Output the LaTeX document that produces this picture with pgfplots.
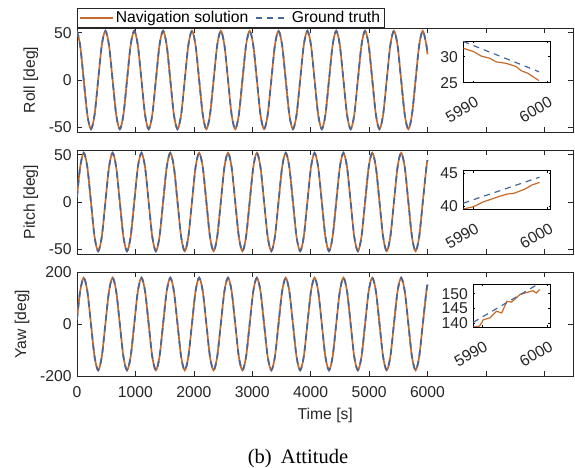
\documentclass[border=0pt]{standalone}
\usepackage{fontspec}
\setmainfont{Liberation Sans}
\newfontfamily\capfont{Liberation Serif}
\usepackage{pgfplots}
\usepackage{pgfplotstable}
\pgfplotsset{compat=1.18}
\definecolor{navc}{RGB}{198,106,44}
\definecolor{truc}{RGB}{68,102,156}
\definecolor{axg}{RGB}{38,38,38}

\pgfplotstableread{
t roll pitch yaw
0 51.73 5.28 18.1
53.75 36.77 36.77 125.87
115.5 0 52 178
177.25 -36.77 36.77 125.87
239 -52 0 0
300.75 -36.77 -36.77 -125.87
362.5 0 -52 -178
424.25 36.77 -36.77 -125.87
486 52 0 0
547.75 36.77 36.77 125.87
609.5 0 52 178
671.25 -36.77 36.77 125.87
733 -52 0 0
794.75 -36.77 -36.77 -125.87
856.5 0 -52 -178
918.25 36.77 -36.77 -125.87
980 52 0 0
1041.75 36.77 36.77 125.87
1103.5 0 52 178
1165.25 -36.77 36.77 125.87
1227 -52 0 0
1288.75 -36.77 -36.77 -125.87
1350.5 0 -52 -178
1412.25 36.77 -36.77 -125.87
1474 52 0 0
1535.75 36.77 36.77 125.87
1597.5 0 52 178
1659.25 -36.77 36.77 125.87
1721 -52 0 0
1782.75 -36.77 -36.77 -125.87
1844.5 0 -52 -178
1906.25 36.77 -36.77 -125.87
1968 52 0 0
2029.75 36.77 36.77 125.87
2091.5 0 52 178
2153.25 -36.77 36.77 125.87
2215 -52 0 0
2276.75 -36.77 -36.77 -125.87
2338.5 0 -52 -178
2400.25 36.77 -36.77 -125.87
2462 52 0 0
2523.75 36.77 36.77 125.87
2585.5 0 52 178
2647.25 -36.77 36.77 125.87
2709 -52 0 0
2770.75 -36.77 -36.77 -125.87
2832.5 0 -52 -178
2894.25 36.77 -36.77 -125.87
2956 52 0 0
3017.75 36.77 36.77 125.87
3079.5 0 52 178
3141.25 -36.77 36.77 125.87
3203 -52 0 0
3264.75 -36.77 -36.77 -125.87
3326.5 0 -52 -178
3388.25 36.77 -36.77 -125.87
3450 52 0 0
3511.75 36.77 36.77 125.87
3573.5 0 52 178
3635.25 -36.77 36.77 125.87
3697 -52 0 0
3758.75 -36.77 -36.77 -125.87
3820.5 0 -52 -178
3882.25 36.77 -36.77 -125.87
3944 52 0 0
4005.75 36.77 36.77 125.87
4067.5 0 52 178
4129.25 -36.77 36.77 125.87
4191 -52 0 0
4252.75 -36.77 -36.77 -125.87
4314.5 0 -52 -178
4376.25 36.77 -36.77 -125.87
4438 52 0 0
4499.75 36.77 36.77 125.87
4561.5 0 52 178
4623.25 -36.77 36.77 125.87
4685 -52 0 0
4746.75 -36.77 -36.77 -125.87
4808.5 0 -52 -178
4870.25 36.77 -36.77 -125.87
4932 52 0 0
4993.75 36.77 36.77 125.87
5055.5 0 52 178
5117.25 -36.77 36.77 125.87
5179 -52 0 0
5240.75 -36.77 -36.77 -125.87
5302.5 0 -52 -178
5364.25 36.77 -36.77 -125.87
5426 52 0 0
5487.75 36.77 36.77 125.87
5549.5 0 52 178
5611.25 -36.77 36.77 125.87
5673 -52 0 0
5734.75 -36.77 -36.77 -125.87
5796.5 0 -52 -178
5858.25 36.77 -36.77 -125.87
5920 52 0 0
5981.75 36.77 36.77 125.87
6000 27.2 44.4 151.5
}\att

% inset data
\pgfplotstableread{
t v
5988.65 32.9
5990 32.14
5992 31.0
5994 29.87
5996 28.74
5998 27.61
5998.9 27.1
}\rollT
\pgfplotstableread{
t v
5988.65 31.6
5990 31.0
5991.1 30.1
5992.2 29.7
5993.1 29.0
5994.5 28.7
5995.8 28.1
5996.5 27.3
5997.4 26.8
5998.9 25.4
}\rollN
\pgfplotstableread{
t v
5988.65 40.4
5990 40.93
5992 41.71
5994 42.49
5996 43.27
5998 44.05
5998.9 44.4
}\pitchT
\pgfplotstableread{
t v
5988.65 39.5
5990 39.85
5991.35 40.6
5993.15 41.3
5994.5 41.8
5995.4 41.9
5996.8 42.5
5997.9 43.2
5998.9 43.6
}\pitchN
\pgfplotstableread{
t v
5988.65 140.2
5990 141.98
5992 144.61
5994 147.24
5996 149.88
5998.3 152.9
}\yawT
\pgfplotstableread{
t v
5988.65 138.6
5989.6 138.9
5990.2 141.1
5991.2 141.7
5992.2 144.0
5993.0 143.4
5993.8 147.4
5994.5 147.1
5995.8 149.7
5997.0 150.5
5997.8 151.0
5998.3 150.2
5998.8 151.4
}\yawN

\pgfplotsset{
  mainax/.style={scale only axis, width=496.5pt, height=104pt, anchor=south west,
    xmin=0, xmax=8500, xtick={0,1000,...,8000},
    axis line style={draw=axg, line width=0.6pt},
    every tick/.style={draw=axg, line width=0.6pt},
    major tick length=5pt,
    tick label style={text=axg},
    ylabel style={text=axg},
    xlabel style={text=axg}},
  insetax/.style={scale only axis, anchor=south west,
    xmin=5988.65, xmax=6000.4, xtick={5990,6000}, xticklabels={5990,6000},
    axis line style={draw=black, line width=0.5pt},
    every tick/.style={draw=black, line width=0.5pt},
    major tick length=2pt,
    tick label style={text=axg},
    xticklabel style={xshift=8.5pt, yshift=-15.5pt, rotate=30, anchor=east},
    axis background/.style={fill=white}},
  navl/.style={color=navc, solid, line width=1.7pt},
  trul/.style={color=truc, line width=1.7pt, dash pattern=on 6pt off 5pt},
}

\begin{document}
\fontsize{15.7}{18}\selectfont
\begin{tikzpicture}
\useasboundingbox (0,0) rectangle (575pt,468pt);
% Roll
\begin{axis}[mainax, at={(77pt,336pt)}, ymin=-55, ymax=55, ytick={-50,0,50},
  yticklabels={-50,0,50}, xticklabels={}, ylabel={Roll [deg]},
  legend style={at={(0,1)}, anchor=south west, legend columns=2, draw=axg,
    line width=0.6pt, inner xsep=2pt, inner ysep=0.5pt,
    nodes={inner xsep=2pt, inner ysep=2.5pt},
    /tikz/every even column/.append style={column sep=5pt}},
  legend cell align=left,
  legend image code/.code={\draw[#1, line width=1.5pt] (0pt,0pt) -- (33pt,0pt);}]
\addplot[navl, smooth] table[x=t, y=roll] {\att};
\addlegendentry{Navigation solution}
\addplot[trul, smooth] table[x=t, y=roll] {\att};
\addlegendentry{Ground truth}
\end{axis}
% Pitch
\begin{axis}[mainax, at={(77pt,214pt)}, ymin=-55, ymax=55, ytick={-50,0,50},
  yticklabels={-50,0,50}, xticklabels={}, ylabel={Pitch [deg]}]
\addplot[navl, smooth] table[x=t, y=pitch] {\att};
\addplot[trul, smooth] table[x=t, y=pitch] {\att};
\end{axis}
% Yaw
\begin{axis}[mainax, at={(77pt,92pt)}, ymin=-200, ymax=200, ytick={-200,0,200},
  yticklabels={-200,0,200},
  xticklabels={0,1000,2000,3000,4000,5000,6000,{},{}},
  xticklabel style={yshift=-5pt},
  xlabel={Time [s]}, ylabel={Yaw [deg]}]
\addplot[navl, smooth] table[x=t, y=yaw] {\att};
\addplot[trul, smooth] table[x=t, y=yaw] {\att};
\end{axis}
% Insets
\begin{axis}[insetax, at={(463.3pt,385.3pt)}, width=86.7pt, height=41.7pt,
  ymin=25, ymax=33, ytick={25,30}, yticklabels={25,30}]
\addplot[navl, line width=1.2pt] table[x=t, y=v] {\rollN};
\addplot[trul, line width=1.2pt] table[x=t, y=v] {\rollT};
\end{axis}
\begin{axis}[insetax, at={(463.3pt,259pt)}, width=87.4pt, height=38.3pt,
  ymin=39.5, ymax=45.4, ytick={40,45}, yticklabels={40,45}]
\addplot[navl, line width=1.2pt] table[x=t, y=v] {\pitchN};
\addplot[trul, line width=1.2pt] table[x=t, y=v] {\pitchT};
\end{axis}
\begin{axis}[insetax, at={(473.3pt,141pt)}, width=76.7pt, height=43pt,
  ymin=138.6, ymax=153.3, ytick={140,145,150}, yticklabels={140,145,150}]
\addplot[navl, line width=1.2pt] table[x=t, y=v] {\yawN};
\addplot[trul, line width=1.2pt] table[x=t, y=v] {\yawT};
\end{axis}
\node[anchor=base, inner sep=0pt, font=\capfont\fontsize{20.5}{24}\selectfont]
  at (298pt,5pt) {(b)\hspace{0.45em}Attitude};
\end{tikzpicture}
\end{document}
